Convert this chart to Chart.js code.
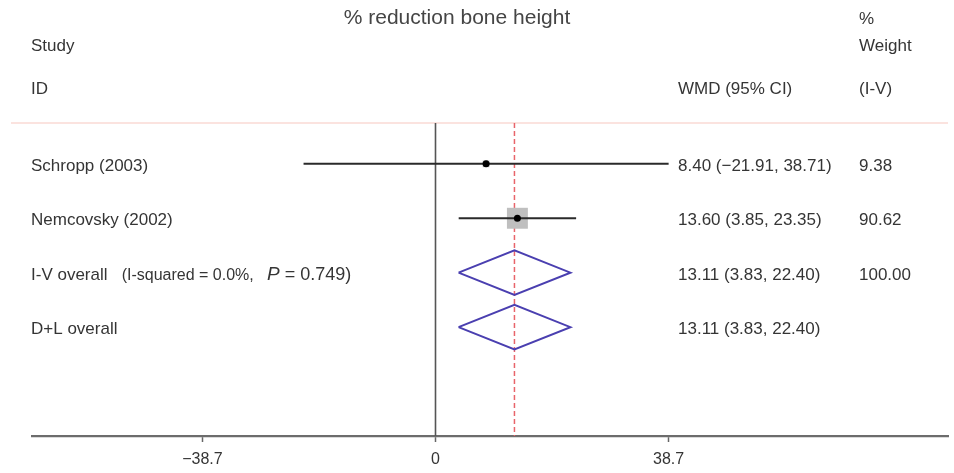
<!DOCTYPE html>
<html>
<head>
<meta charset="utf-8">
<title>% reduction bone height</title>
<script src="https://cdn.jsdelivr.net/npm/chart.js@4.4.1/dist/chart.umd.min.js"></script>
<style>
  html, body { margin: 0; padding: 0; background: #fff; }
  #forest { display: block; }
</style>
</head>
<body>
<canvas id="forest" width="954" height="473"></canvas>
<script>
// datos de los estudios
var studyLabels = ["Schropp (2003)", "Nemcovsky (2002)"];
var studyEst = [8.40, 13.60];
var studyLow = [-21.91, 3.85];
var studyHigh = [38.71, 23.35];
var studyWeight = [9.38, 90.62];

// estimaciones combinadas
var pooledLabels = ["I-V overall", "D+L overall"];
var pooledEst = [13.11, 13.11];
var pooledLow = [3.83, 3.83];
var pooledHigh = [22.40, 22.40];
var pooledWeight = ["100.00", ""];
var heterogeneity = "(I-squared = 0.0%,";
var pValue = "0.749";

// eje x
var tickValues = [-38.7, 0, 38.7];
var tickLabels = ["\u221238.7", "0", "38.7"];

var FONT = '"Liberation Sans", Arial, Helvetica, sans-serif';
var TEXT = "#353535";

function fmt(v) {
    var s = Math.abs(v).toFixed(2);
    return v < 0 ? "\u2212" + s : s;
}
function ciText(e, lo, hi) {
    return e.toFixed(2) + " (" + fmt(lo) + ", " + fmt(hi) + ")";
}

// posicion de cada fila en el eje y (invertido)
function rowPos(i) { return i + 0.75; }
var nStudies = studyLabels.length;
var yMax = 5.75;
var maxW = Math.max.apply(null, studyWeight);

var datasets = [];

// puntos de estimacion
datasets.push({
    data: studyEst.map(function (e, i) { return { x: e, y: rowPos(i) }; }),
    pointRadius: 3.5, pointBackgroundColor: "#000", pointBorderWidth: 0,
    showLine: false, order: 0
});

// intervalos de confianza
studyLabels.forEach(function (l, i) {
    datasets.push({
        data: [{ x: studyLow[i], y: rowPos(i) }, { x: studyHigh[i], y: rowPos(i) }],
        showLine: true, borderColor: "#2a2a2a", borderWidth: 2,
        pointRadius: 0, order: 1
    });
});

// cuadros de peso
datasets.push({
    data: studyEst.map(function (e, i) { return { x: e, y: rowPos(i) }; }),
    pointStyle: "rect",
    pointRadius: studyWeight.map(function (w) { return 14.8 * Math.sqrt(w / maxW); }),
    pointBackgroundColor: "#bfbfbf", pointBorderWidth: 0,
    showLine: false, order: 2
});

// diamantes
pooledLabels.forEach(function (l, j) {
    var r = rowPos(nStudies + j);
    var h = 0.41;
    datasets.push({
        data: [
            { x: pooledLow[j], y: r },
            { x: pooledEst[j], y: r - h },
            { x: pooledHigh[j], y: r },
            { x: pooledEst[j], y: r + h },
            { x: pooledLow[j], y: r }
        ],
        showLine: true, borderColor: "#4a3fb0", borderWidth: 2,
        pointRadius: 0, tension: 0, order: 1
    });
});

// linea de efecto global (roja punteada)
datasets.push({
    data: [{ x: pooledEst[0], y: 0 }, { x: pooledEst[0], y: yMax }],
    showLine: true, borderColor: "#e8646a", borderWidth: 1.5,
    borderDash: [5, 3], pointRadius: 0, order: 3
});

// linea de no efecto
datasets.push({
    data: [{ x: 0, y: 0 }, { x: 0, y: yMax }],
    showLine: true, borderColor: "#555", borderWidth: 1.6,
    pointRadius: 0, order: 4
});

var textPlugin = {
    id: "forestText",
    beforeDatasetsDraw: function (chart) {
        var ctx = chart.ctx;
        var top = chart.chartArea.top;
        ctx.save();
        ctx.strokeStyle = "#fbe3df";
        ctx.lineWidth = 2;
        ctx.beginPath();
        ctx.moveTo(11, top);
        ctx.lineTo(948, top);
        ctx.stroke();
        ctx.restore();
    },
    afterDraw: function (chart) {
        var ctx = chart.ctx;
        var y = chart.scales.y;
        var colLabel = 31, colCI = 678, colW = 859;
        ctx.save();
        ctx.fillStyle = TEXT;
        ctx.textBaseline = "middle";

        // cabecera
        ctx.textAlign = "center";
        ctx.font = "21px " + FONT;
        ctx.fillStyle = "#454545";
        ctx.fillText("% reduction bone height", 457, 18);
        ctx.fillStyle = TEXT;
        ctx.textAlign = "left";
        ctx.font = "17px " + FONT;
        ctx.fillText("Study", colLabel, 46);
        ctx.fillText("ID", colLabel, 89);
        ctx.fillText("WMD (95% CI)", colCI, 89);
        ctx.fillText("%", colW, 19);
        ctx.fillText("Weight", colW, 46);
        ctx.fillText("(I-V)", colW, 89);

        // filas de estudios
        studyLabels.forEach(function (l, i) {
            var py = y.getPixelForValue(rowPos(i)) + 2.5;
            ctx.fillText(l, colLabel, py);
            ctx.fillText(ciText(studyEst[i], studyLow[i], studyHigh[i]), colCI, py);
            ctx.fillText(studyWeight[i].toFixed(2), colW, py);
        });

        // filas combinadas
        pooledLabels.forEach(function (l, j) {
            var py = y.getPixelForValue(rowPos(nStudies + j)) + 2.5;
            ctx.font = "17px " + FONT;
            if (j === 0) {
                var x = colLabel;
                ctx.fillText(l, x, py);
                x += ctx.measureText(l + "   ").width;
                ctx.font = "16px " + FONT;
                ctx.fillText(heterogeneity, x, py);
                x += ctx.measureText(heterogeneity + "   ").width;
                ctx.font = "italic 19px " + FONT;
                ctx.fillText("P", x, py);
                x += ctx.measureText("P").width;
                ctx.font = "18px " + FONT;
                ctx.fillText(" = " + pValue + ")", x, py);
                ctx.font = "17px " + FONT;
            } else {
                ctx.fillText(l, colLabel, py);
            }
            ctx.fillText(ciText(pooledEst[j], pooledLow[j], pooledHigh[j]), colCI, py);
            ctx.fillText(pooledWeight[j], colW, py);
        });
        ctx.restore();
    }
};

var forestChart = new Chart(document.getElementById("forest").getContext("2d"), {
    type: "scatter",
    data: { datasets: datasets },
    plugins: [textPlugin],
    options: {
        responsive: false,
        animation: false,
        devicePixelRatio: 1,
        layout: { autoPadding: false, padding: { left: 32, right: 6, top: 123, bottom: 0 } },
        plugins: { legend: { display: false }, tooltip: { enabled: false } },
        scales: {
            x: {
                type: "linear",
                min: -67,
                max: 85.1,
                afterBuildTicks: function (scale) {
                    scale.ticks = tickValues.map(function (v) { return { value: v }; });
                },
                afterFit: function (scale) {
                    scale.height = 37;
                },
                ticks: {
                    autoSkip: false,
                    maxRotation: 0,
                    padding: 8,
                    color: TEXT,
                    font: { family: FONT, size: 16 },
                    callback: function (value) {
                        var k = tickValues.indexOf(value);
                        return k >= 0 ? tickLabels[k] : "";
                    }
                },
                grid: {
                    display: true,
                    drawOnChartArea: false,
                    drawTicks: true,
                    tickLength: 6,
                    tickWidth: 1.5,
                    tickColor: "#666"
                },
                border: { display: true, color: "#6c6c6c", width: 2.2 }
            },
            y: {
                type: "linear",
                display: false,
                reverse: true,
                min: 0,
                max: yMax
            }
        }
    }
});
</script>
</body>
</html>
